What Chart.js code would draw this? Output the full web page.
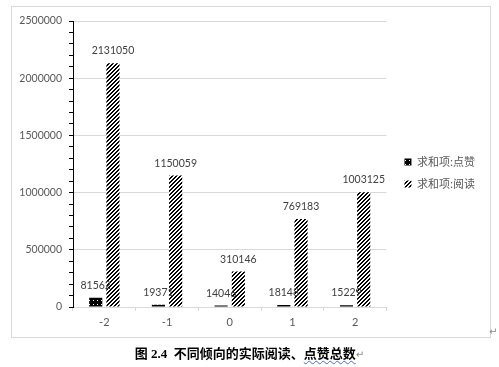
<!DOCTYPE html>
<html>
<head>
<meta charset="utf-8">
<script src="https://cdn.jsdelivr.net/npm/chart.js@4.4.1/dist/chart.umd.min.js"></script>
<style>
  body { margin: 0; background: #fff; width: 499px; height: 367px; position: relative; overflow: hidden; }
  #box { position: absolute; left: 11px; top: 6px; width: 478px; height: 330px; border: 1px solid #d9d9d9; }
  #box canvas { display: block; }
  #caption { position: absolute; left: 0; width: 499px; top: 343px; text-align: center;
    font: bold 13px "Liberation Serif", "Noto Sans CJK SC", serif; color: #000; }
  #caption .wavy { text-decoration: underline wavy #4a6cd4; text-decoration-thickness: 1px; text-underline-offset: 2px; }
  .ret { color: #888; font-weight: normal; font-size: 10px; font-family: "DejaVu Sans", sans-serif; }
  #ret2 { position: absolute; left: 489px; top: 326px; }
</style>
</head>
<body>
<div id="box"><canvas id="chart" width="478" height="330"></canvas></div>
<div id="ret2" class="ret">↵</div>
<div id="caption">图 2.4&nbsp;&nbsp;不同倾向的实际阅读、<span class="wavy">点赞总数</span><span class="ret">↵</span></div>
<script>
// data
const categories = ['-2', '-1', '0', '1', '2'];
const seriesNames = ['求和项:点赞', '求和项:阅读'];
const likes = [81562, 19371, 14046, 18148, 15229];
const reads = [2131050, 1150059, 310146, 769183, 1003125];
const yMax = 2500000;
const yMajor = 500000;
const yMinor = 100000;

// black with white specks
function dotPattern() {
  const c = document.createElement('canvas');
  c.width = 4; c.height = 4;
  const g = c.getContext('2d');
  g.fillStyle = '#000';
  g.fillRect(0, 0, 4, 4);
  g.fillStyle = '#fff';
  g.fillRect(1, 1, 1, 1);
  return g.createPattern(c, 'repeat');
}

// "/" diagonal hatching
function hatchPattern() {
  const c = document.createElement('canvas');
  c.width = 4; c.height = 4;
  const g = c.getContext('2d');
  g.fillStyle = '#fff';
  g.fillRect(0, 0, 4, 4);
  g.fillStyle = '#000';
  for (let y = 0; y < 4; y++) {
    for (let x = 0; x < 4; x++) {
      if ((x + y) % 4 < 2) g.fillRect(x, y, 1, 1);
    }
  }
  return g.createPattern(c, 'repeat');
}

const valueLabels = {
  id: 'valueLabels',
  afterDatasetsDraw(chart) {
    const ctx = chart.ctx;
    ctx.save();
    ctx.font = '10.5px Lato, "Liberation Sans", sans-serif';
    ctx.fillStyle = '#404040';
    ctx.textAlign = 'center';
    ctx.textBaseline = 'bottom';
    chart.data.datasets.forEach((ds, i) => {
      chart.getDatasetMeta(i).data.forEach((bar, j) => {
        ctx.fillText(ds.data[j], bar.x, bar.y - 7);
      });
    });
    ctx.restore();
  }
};

// nudge the legend to where the reference has it
const legendShift = {
  id: 'legendShift',
  afterLayout(chart) {
    const lg = chart.legend;
    lg.left += 7; lg.right += 7;
    lg.top -= 2; lg.bottom -= 2;
  }
};

new Chart(document.getElementById('chart'), {
  type: 'bar',
  data: {
    labels: categories,
    datasets: [
      { label: seriesNames[0], data: likes, backgroundColor: dotPattern(), borderWidth: 0 },
      { label: seriesNames[1], data: reads, backgroundColor: hatchPattern(), borderWidth: 0 }
    ]
  },
  options: {
    responsive: false,
    animation: false,
    categoryPercentage: 0.55,
    barPercentage: 0.76,
    layout: { padding: { top: 14, bottom: 8, left: 0, right: 12 } },
    plugins: {
      tooltip: { enabled: false },
      legend: {
        position: 'right',
        labels: {
          boxWidth: 7, boxHeight: 7, padding: 11,
          color: '#595959',
          font: { family: '"Noto Sans CJK SC", sans-serif', size: 11 }
        }
      }
    },
    scales: {
      x: {
        afterFit(scale) { scale.height = 22; },
        border: { color: '#d9d9d9' },
        grid: { drawOnChartArea: false, drawTicks: true, tickLength: 4, tickColor: '#d9d9d9' },
        ticks: { color: '#595959', padding: 5, font: { family: 'Lato, "Liberation Sans", sans-serif', size: 11 } }
      },
      y: {
        min: 0,
        max: yMax,
        afterFit(scale) { scale.width = 61; },
        border: { color: '#000' },
        grid: {
          color: c => (c.tick && c.tick.value % yMajor === 0 ? '#d9d9d9' : 'rgba(0,0,0,0)'),
          tickColor: '#000',
          tickLength: 4
        },
        ticks: {
          stepSize: yMinor,
          autoSkip: false,
          padding: 7,
          color: '#595959',
          font: { family: 'Lato, "Liberation Sans", sans-serif', size: 10.5 },
          callback: v => (v % yMajor === 0 ? v : '')
        }
      }
    }
  },
  plugins: [valueLabels, legendShift]
});
</script>
</body>
</html>
